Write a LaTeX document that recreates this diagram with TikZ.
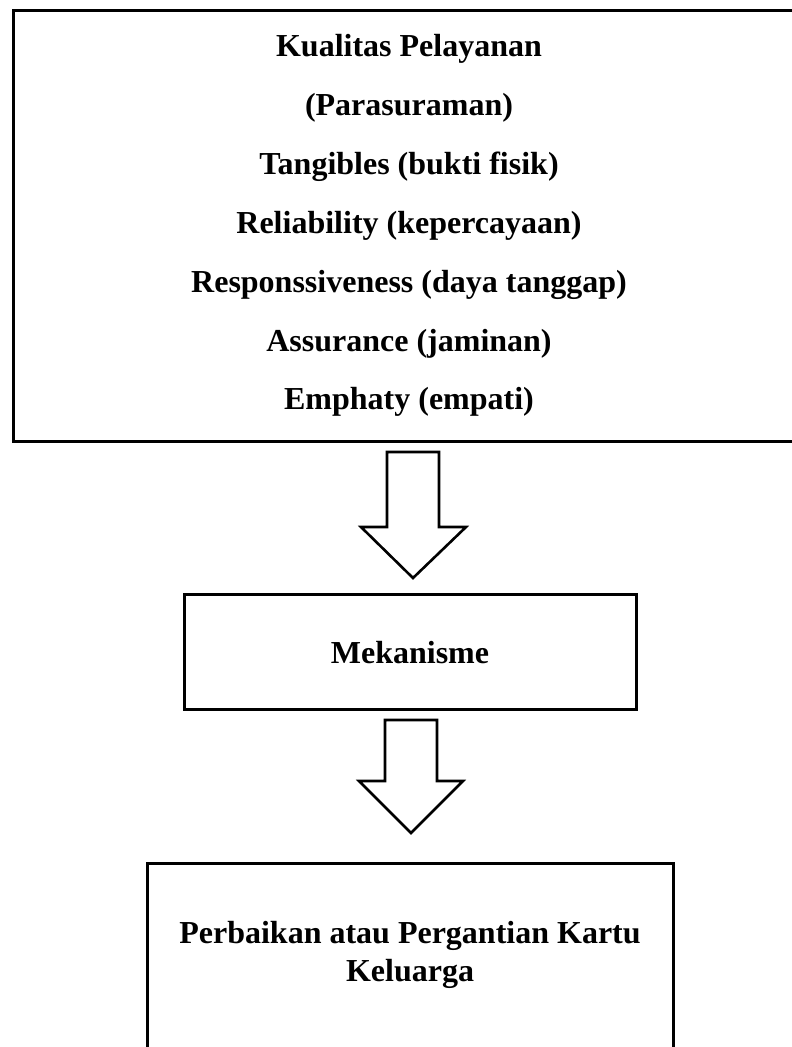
\documentclass[tikz,border=0pt]{standalone}
\usepackage{fontspec}
\setmainfont{Liberation Serif}
\begin{document}
\begin{tikzpicture}[x=1pt,y=-1pt,
  frame/.style={draw=black,line width=3pt},
  blockarrow/.style={draw=black,line width=2.6pt,fill=white,line join=miter},
  lbl/.style={font=\fontsize{32}{38}\selectfont\bfseries,inner sep=0pt,anchor=base}]
\useasboundingbox (0,0) rectangle (792,1047);
\clip (0,0) rectangle (792,1047);
% top box
\draw[frame] (13,10) rectangle (820,441);
\coordinate (topbox) at (409,441);
\node[lbl] (t1) at (409,56) {Kualitas Pelayanan};
\node[lbl] (t2) at (409,115) {(Parasuraman)};
\node[lbl] (t3) at (409,174) {Tangibles (bukti fisik)};
\node[lbl] (t4) at (409,233) {Reliability (kepercayaan)};
\node[lbl] (t5) at (409,292) {Responssiveness (daya tanggap)};
\node[lbl] (t6) at (409,351) {Assurance (jaminan)};
\node[lbl] (t7) at (409,409) {Emphaty (empati)};
% mekanisme
\draw[frame] (184,594) rectangle (636,709);
\node[lbl] (mek) at (410,663) {Mekanisme};
% bottom box
\draw[frame] (147,863) rectangle (673,1080);
\node[lbl] (p1) at (410,943) {Perbaikan atau Pergantian Kartu};
\node[lbl] (p2) at (410,981) {Keluarga};
% arrows
\draw[blockarrow] (387,452) -- (439,452) -- (439,527) -- (466,527) -- (413,578) -- (361,527) -- (387,527) -- cycle;
\draw[blockarrow] (385,720) -- (437,720) -- (437,781) -- (463,781) -- (411,833) -- (359,781) -- (385,781) -- cycle;
\end{tikzpicture}
\end{document}
